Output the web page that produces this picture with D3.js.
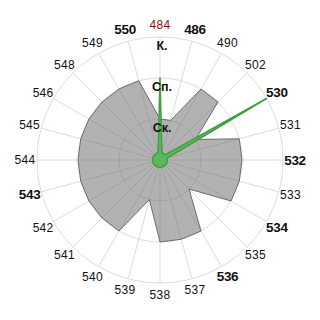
<!DOCTYPE html>
<html>
<head>
<meta charset="utf-8">
<script src="https://cdn.jsdelivr.net/npm/d3@7"></script>
<style>
  body { margin: 0; background: #fff; }
  text { font-family: "Liberation Sans", Arial, sans-serif; }
</style>
</head>
<body>
<svg id="chart" width="320" height="320"></svg>
<script>
// categories clockwise from the top
var categories = ["484","486","490","502","530","531","532","533","534","535","536","537",
                  "538","539","540","541","542","543","544","545","546","548","549","550"]
// highlighted (bold) labels, red one
var boldLabels = ["550","486","530","532","534","536","543"]
var redLabel = "484"

// radial levels
var levels = [1, 2, 3]
var levelLabels = ["Ск.", "Сп.", "К."]

// gray series
var grayValues = [1,1,2,2,1,2,2,2,2,1,2,2,2,1,2,2,2,2,2,2,2,2,2,2]
// green series
var greenValues = [2,0.18,0.18,0.18,3,0.18,0.18,0.18,0.18,0.18,0.18,0.18,
                   0.18,0.18,0.18,0.18,0.18,0.18,0.18,0.18,0.18,0.18,0.18,0.18]

window.onload = () => {
  draw_radar()
}

function draw_radar(){
  var svg = d3.select("#chart"),
      width = +svg.attr("width"),
      height = +svg.attr("height");

  var g = svg.append("g")
    .attr("transform", "translate(" + width / 2 + "," + height / 2 + ")");

  var angle = d3.scaleBand()
    .domain(categories)
    .range([0, 2 * Math.PI])
    .paddingInner(0)
    .align(0)

  var r = d3.scaleLinear()
    .domain([0, 3])
    .range([0, 123])

  // grid circles
  g.selectAll("circle.grid")
    .data(levels)
    .enter()
    .append("circle")
      .attr("class", "grid")
      .attr("r", function(d){ return r(d) })
      .attr("fill", "none")
      .attr("stroke", "#dcdcdc")
      .attr("stroke-width", 1)

  // spokes
  g.selectAll("line.spoke")
    .data(categories)
    .enter()
    .append("line")
      .attr("class", "spoke")
      .attr("x1", 0).attr("y1", 0)
      .attr("x2", function(d){ return r(3) * Math.sin(angle(d)) })
      .attr("y2", function(d){ return -r(3) * Math.cos(angle(d)) })
      .attr("stroke", "#dcdcdc")
      .attr("stroke-width", 1)

  var radar = d3.lineRadial()
    .angle(function(d, i){ return angle(categories[i]) })
    .radius(function(d){ return r(d) })
    .curve(d3.curveLinearClosed)

  // gray area
  g.append("path")
    .datum(grayValues)
    .attr("d", radar)
    .attr("fill", "rgba(115,115,115,0.55)")
    .attr("stroke", "#6e6e6e")
    .attr("stroke-width", 1)

  // green area
  g.append("path")
    .datum(greenValues)
    .attr("d", radar)
    .attr("fill", "#5cb85f")
    .attr("stroke", "#3f9f43")
    .attr("stroke-width", 1.5)
    .attr("stroke-linejoin", "round")

  // category labels
  g.selectAll("text.cat")
    .data(categories)
    .enter()
    .append("text")
      .attr("class", "cat")
      .attr("x", function(d){ return 135 * Math.sin(angle(d)) })
      .attr("y", function(d){ return -135 * Math.cos(angle(d)) })
      .attr("text-anchor", "middle")
      .attr("dominant-baseline", "central")
      .style("font-size", function(d){ return boldLabels.indexOf(d) >= 0 ? "13.5px" : "12px" })
      .style("font-weight", function(d){ return boldLabels.indexOf(d) >= 0 ? "bold" : "normal" })
      .style("letter-spacing", function(d){ return boldLabels.indexOf(d) >= 0 ? "-0.3px" : "0.3px" })
      .attr("fill", function(d){ return d == redLabel ? "#8b1010" : "#111" })
      .text(function(d){ return d })

  // level labels along the top axis
  g.selectAll("text.level")
    .data(levels)
    .enter()
    .append("text")
      .attr("class", "level")
      .attr("x", 2)
      .attr("y", function(d){ return -r(d) + 13 })
      .attr("text-anchor", "middle")
      .style("font-size", "12.5px")
      .style("font-weight", "bold")
      .attr("fill", "#111")
      .text(function(d, i){ return levelLabels[i] })
}
</script>
</body>
</html>
